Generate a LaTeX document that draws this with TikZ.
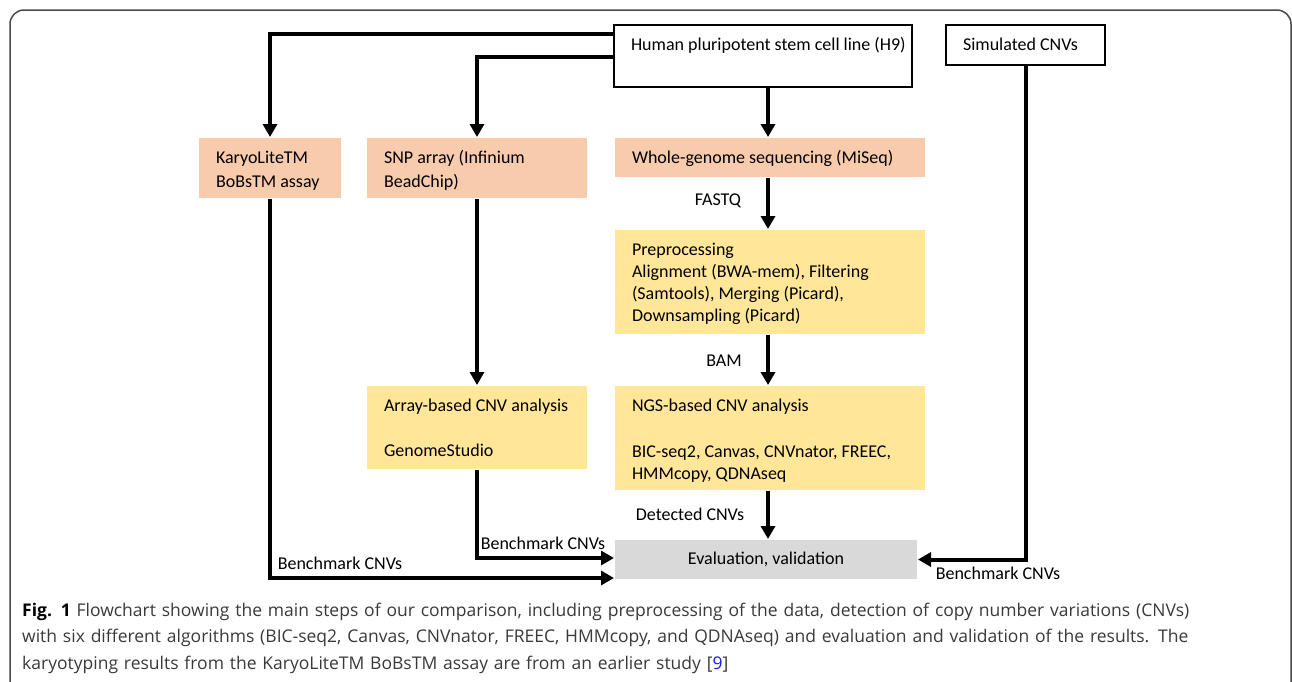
\documentclass[tikz,border=0pt]{standalone}
\usepackage{fontspec}
\setmainfont{Carlito}
\newfontfamily\capfont{Open Sans}
\usetikzlibrary{arrows.meta}
\definecolor{peach}{HTML}{F8CBAD}
\definecolor{ylw}{HTML}{FFE699}
\definecolor{lgray}{HTML}{D9D9D9}
\definecolor{capgray}{HTML}{3A3A3A}
\definecolor{framegray}{HTML}{4A4A4A}
\definecolor{refblue}{HTML}{1A1AE6}
\newcommand{\bx}[3]{\parbox[c][#2][t]{#1}{\raggedright\setlength{\leftskip}{17pt}\rule{0pt}{25pt}#3}}
\begin{document}
\begin{tikzpicture}[x=1pt,y=-1pt,
  box/.style={inner sep=0pt, line width=2pt, font=\fontsize{18}{22}\selectfont},
  wbox/.style={box, draw=black, fill=white},
  pbox/.style={box, fill=peach},
  ybox/.style={box, fill=ylw},
  gbox/.style={box, fill=lgray, minimum width=302pt, minimum height=39pt},
  arrw/.style={line width=4pt, -{Triangle[length=13pt,width=14pt]}},
  lbl/.style={font=\fontsize{18}{22}\selectfont, inner sep=0pt}
]
\useasboundingbox (0,0) rectangle (1292,681);
\fill[white] (0,0) rectangle (1292,681);
\draw[line width=1.5pt, draw=framegray, rounded corners=14pt] (10,730) -- (10,10) -- (1291,10) -- (1291,730);

\node[wbox] (h9) at (763,56) {\bx{298pt}{62pt}{Human pluripotent stem cell line (H9)}};
\node[wbox] (sim) at (1025.5,45) {\bx{159pt}{40pt}{Simulated CNVs}};
\node[pbox] (karyo) at (270,168) {\bx{142pt}{60pt}{KaryoLiteTM\\[2pt]BoBsTM assay}};
\node[pbox] (snp) at (477,168) {\bx{220pt}{60pt}{SNP array (Infinium\\[2pt]BeadChip)}};
\node[pbox] (wgs) at (770,157.5) {\bx{310pt}{39pt}{Whole-genome sequencing (MiSeq)}};
\node[ybox] (pre) at (770,282) {\bx{310pt}{104pt}{Preprocessing\\Alignment (BWA-mem), Filtering\\(Samtools), Merging (Picard),\\Downsampling (Picard)}};
\node[ybox] (arr) at (477,427.5) {\bx{220pt}{83pt}{Array-based CNV analysis\\[23pt]GenomeStudio}};
\node[ybox] (ngs) at (770,438) {\bx{310pt}{104pt}{NGS-based CNV analysis\\[24pt]BIC-seq2, Canvas, CNVnator, FREEC,\\HMMcopy, QDNAseq}};
\node[gbox] (evl) at (766,559.5) {Evaluation, validation};

\coordinate (col) at (768,0);
\draw[arrw] ([yshift=-10pt]h9.north west) -| (karyo.north);
\draw[arrw] ([yshift=-33pt]h9.north west) -| (snp.north);
\draw[arrw] (h9.south -| col) -- (wgs.north -| col);
\draw[arrw] (wgs.south -| col) -- (pre.north -| col);
\draw[arrw] (pre.south -| col) -- (ngs.north -| col);
\draw[arrw] (ngs.south -| col) -- (evl.north -| col);
\draw[arrw] (snp.south) -- (arr.north);
\draw[arrw] (arr.south) |- ([yshift=1.5pt]evl.west);
\draw[arrw] (karyo.south) |- ([yshift=-18.5pt]evl.west);
\draw[arrw] (sim.south) |- (evl.east);

\node[lbl] (lfastq) at (718,201) {FASTQ};
\node[lbl] (lbam) at (724,361) {BAM};
\node[lbl] (ldet) at (690,514) {Detected CNVs};
\node[lbl] (lb1) at (543,543) {Benchmark CNVs};
\node[lbl] (lb2) at (340,563) {Benchmark CNVs};
\node[lbl] (lb3) at (998,573) {Benchmark CNVs};

\node[anchor=north west, inner sep=0pt, text width=1265pt, align=left,
  font=\capfont\fontsize{17.5}{26.5}\selectfont, text=capgray] (cap) at (22,598)
 {\rule{0pt}{18pt}\textcolor{black}{\textbf{Fig. 1}} Flowchart showing the main steps of our comparison, including preprocessing of the data, detection of copy number variations (CNVs)\\
 with six different algorithms (BIC-seq2, Canvas, CNVnator, FREEC, HMMcopy, and QDNAseq) and evaluation and validation of the results. The\\
 karyotyping results from the KaryoLiteTM BoBsTM assay are from an earlier study [\textcolor{refblue}{9}]};
\end{tikzpicture}
\end{document}
